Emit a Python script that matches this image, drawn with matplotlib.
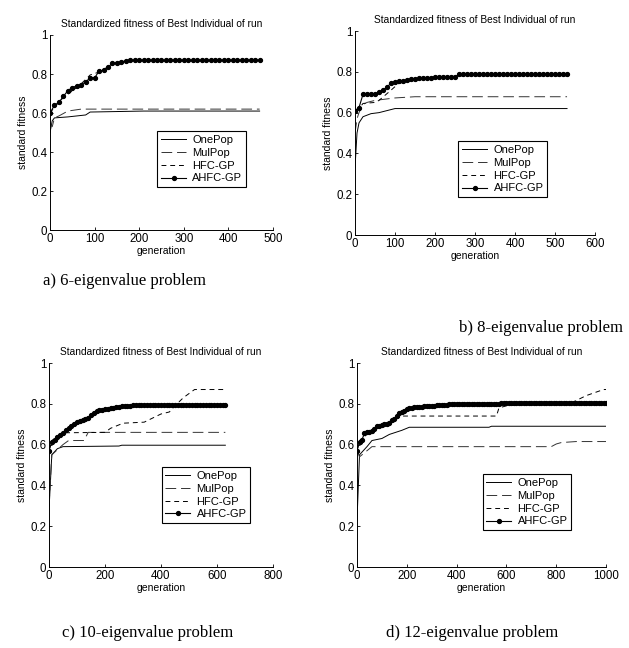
import numpy as np
import matplotlib
matplotlib.use('Agg')
import matplotlib.pyplot as plt

plt.rcParams['font.family'] = ['Liberation Sans', 'DejaVu Sans']

labels = ['OnePop', 'MulPop', 'HFC-GP', 'AHFC-GP']
title = 'Standardized fitness of Best Individual of run'

# a) 6-eigenvalue problem
a_one_x = [0, 5, 10, 40, 80, 90, 210, 470]
a_one_y = [0.50, 0.56, 0.575, 0.58, 0.59, 0.605, 0.61, 0.61]
a_mul_x = [0, 5, 10, 20, 40, 70, 470]
a_mul_y = [0.55, 0.53, 0.575, 0.585, 0.61, 0.62, 0.62]
a_hfc_x = [0, 10, 30, 60, 70, 90, 110, 140, 170, 470]
a_hfc_y = [0.60, 0.63, 0.68, 0.73, 0.75, 0.795, 0.81, 0.85, 0.865, 0.87]
a_ahfc_y = [0.60, 0.64, 0.655, 0.685, 0.715, 0.73, 0.74, 0.745, 0.76, 0.78,
            0.78, 0.815, 0.82, 0.835, 0.855, 0.858, 0.862, 0.868] + [0.87] * 30

# b) 8-eigenvalue problem
b_one_x = [0, 5, 10, 20, 40, 60, 80, 100, 530]
b_one_y = [0.33, 0.50, 0.55, 0.58, 0.595, 0.60, 0.61, 0.62, 0.62]
b_mul_x = [0, 5, 10, 20, 30, 50, 100, 150, 530]
b_mul_y = [0.50, 0.57, 0.60, 0.64, 0.65, 0.66, 0.672, 0.678, 0.678]
b_hfc_x = [0, 10, 20, 50, 60, 90, 110, 150, 200, 260, 530]
b_hfc_y = [0.61, 0.62, 0.645, 0.65, 0.66, 0.71, 0.745, 0.76, 0.77, 0.78, 0.78]
b_ahfc_y = [0.61, 0.625, 0.69, 0.69, 0.69, 0.69, 0.70, 0.71, 0.725, 0.745,
            0.75, 0.755, 0.755, 0.76, 0.765, 0.765, 0.768, 0.772, 0.772, 0.772,
            0.775, 0.775, 0.775, 0.775, 0.775, 0.775] + [0.787] * 28

# c) 10-eigenvalue problem
c_one_x = [0, 10, 30, 50, 250, 260, 630]
c_one_y = [0.28, 0.55, 0.58, 0.59, 0.593, 0.597, 0.597]
c_mul_x = [0, 10, 50, 60, 70, 125, 140, 630]
c_mul_y = [0.30, 0.55, 0.60, 0.61, 0.62, 0.62, 0.66, 0.66]
c_hfc_x = [0, 10, 40, 55, 200, 220, 265, 340, 370, 400, 430, 450, 480, 520, 630]
c_hfc_y = [0.57, 0.62, 0.65, 0.658, 0.66, 0.68, 0.705, 0.71, 0.73, 0.75,
           0.76, 0.79, 0.83, 0.87, 0.87]
c_ahfc_y = [0.57, 0.615, 0.625, 0.635, 0.645, 0.655, 0.67, 0.68, 0.69, 0.70,
            0.71, 0.715, 0.72, 0.725, 0.73, 0.745, 0.755, 0.765, 0.772, 0.772,
            0.775, 0.775, 0.778, 0.78, 0.782, 0.785, 0.787, 0.79, 0.79, 0.79,
            0.793, 0.795] + [0.795] * 32

# d) 12-eigenvalue problem
d_one_x = [0, 10, 40, 60, 100, 130, 180, 210, 530, 540, 1000]
d_one_y = [0.23, 0.55, 0.59, 0.62, 0.63, 0.65, 0.67, 0.685, 0.685, 0.69, 0.69]
d_mul_x = [0, 10, 40, 60, 780, 800, 820, 880, 1000]
d_mul_y = [0.57, 0.54, 0.57, 0.59, 0.59, 0.603, 0.61, 0.615, 0.615]
d_hfc_x = [0, 10, 40, 60, 130, 150, 180, 560, 570, 600, 700, 850, 870, 920, 990, 1000]
d_hfc_y = [0.57, 0.62, 0.65, 0.67, 0.70, 0.72, 0.74, 0.74, 0.78, 0.79, 0.80,
           0.80, 0.81, 0.84, 0.87, 0.87]
d_ahfc_y = [0.57, 0.615, 0.625, 0.655, 0.66, 0.66, 0.665, 0.675, 0.69, 0.69,
            0.695, 0.70, 0.70, 0.705, 0.72, 0.725, 0.74, 0.755, 0.76, 0.765,
            0.775, 0.78, 0.78, 0.782, 0.782, 0.785, 0.785, 0.787, 0.787, 0.79,
            0.79, 0.79, 0.792, 0.792, 0.793, 0.795, 0.795, 0.797, 0.797, 0.798] \
    + [0.80] * 18 + [0.805] * 43

panels = [
    dict(pos=[0.0795, 0.645, 0.3545, 0.301], xmax=500, xticks=[0, 100, 200, 300, 400, 500],
         one=(a_one_x, a_one_y), mul=(a_mul_x, a_mul_y), hfc=(a_hfc_x, a_hfc_y), ahfc=a_ahfc_y,
         leg=(0.457, 0.535), cap='a) 6-eigenvalue problem', cap_xy=(0.068, 0.567), ha='left'),
    dict(pos=[0.5644, 0.6373, 0.3816, 0.3148], xmax=600, xticks=[0, 100, 200, 300, 400, 500, 600],
         one=(b_one_x, b_one_y), mul=(b_mul_x, b_mul_y), hfc=(b_hfc_x, b_hfc_y), ahfc=b_ahfc_y,
         leg=(0.408, 0.487), cap='b) 8-eigenvalue problem', cap_xy=(0.99, 0.494), ha='right'),
    dict(pos=[0.0779, 0.125, 0.356, 0.3148], xmax=800, xticks=[0, 200, 400, 600, 800],
         one=(c_one_x, c_one_y), mul=(c_mul_x, c_mul_y), hfc=(c_hfc_x, c_hfc_y), ahfc=c_ahfc_y,
         leg=(0.478, 0.517), cap='c) 10-eigenvalue problem', cap_xy=(0.099, 0.023), ha='left'),
    dict(pos=[0.5676, 0.125, 0.3959, 0.3148], xmax=1000, xticks=[0, 200, 400, 600, 800, 1000],
         one=(d_one_x, d_one_y), mul=(d_mul_x, d_mul_y), hfc=(d_hfc_x, d_hfc_y), ahfc=d_ahfc_y,
         leg=(0.482, 0.482), cap='d) 12-eigenvalue problem', cap_xy=(0.614, 0.023), ha='left'),
]

fig = plt.figure(figsize=(6.29, 6.48), dpi=100)

for p in panels:
    ax = fig.add_axes(p['pos'])
    ax.plot(*p['one'], color='black', lw=0.7, label=labels[0])
    ax.plot(*p['mul'], color='#333333', lw=0.7, dashes=(11, 5), label=labels[1])
    ax.plot(*p['hfc'], color='black', lw=0.7, dashes=(5, 4), label=labels[2])
    gx = np.arange(len(p['ahfc'])) * 10
    ax.plot(gx, p['ahfc'], color='black', lw=0.8, marker='o', ms=2.8, label=labels[3])

    ax.set_xlim(0, p['xmax'])
    ax.set_ylim(0, 1)
    ax.set_xticks(p['xticks'])
    ax.set_yticks([0, 0.2, 0.4, 0.6, 0.8, 1])
    ax.set_yticklabels(['0', '0.2', '0.4', '0.6', '0.8', '1'])
    ax.tick_params(direction='in', length=2.5, width=0.6, labelsize=8.3, pad=2)
    for s in ['top', 'right']:
        ax.spines[s].set_visible(False)
    for s in ['left', 'bottom']:
        ax.spines[s].set_linewidth(0.7)
    ax.set_title(title, fontsize=7.3, pad=6)
    ax.set_xlabel('generation', fontsize=7.5, labelpad=1)
    ax.set_ylabel('standard fitness', fontsize=7.5, labelpad=2)

    leg = ax.legend(loc='upper left', bbox_to_anchor=p['leg'], fontsize=8, numpoints=1,
                    handlelength=2.2, handletextpad=0.6, borderpad=0.35, labelspacing=0.25,
                    fancybox=False, framealpha=1, edgecolor='black')
    leg.get_frame().set_linewidth(0.8)

    fig.text(p['cap_xy'][0], p['cap_xy'][1], p['cap'], fontsize=12,
             family='Liberation Serif', ha=p['ha'], va='center')

fig.savefig('out.png', dpi=100)
